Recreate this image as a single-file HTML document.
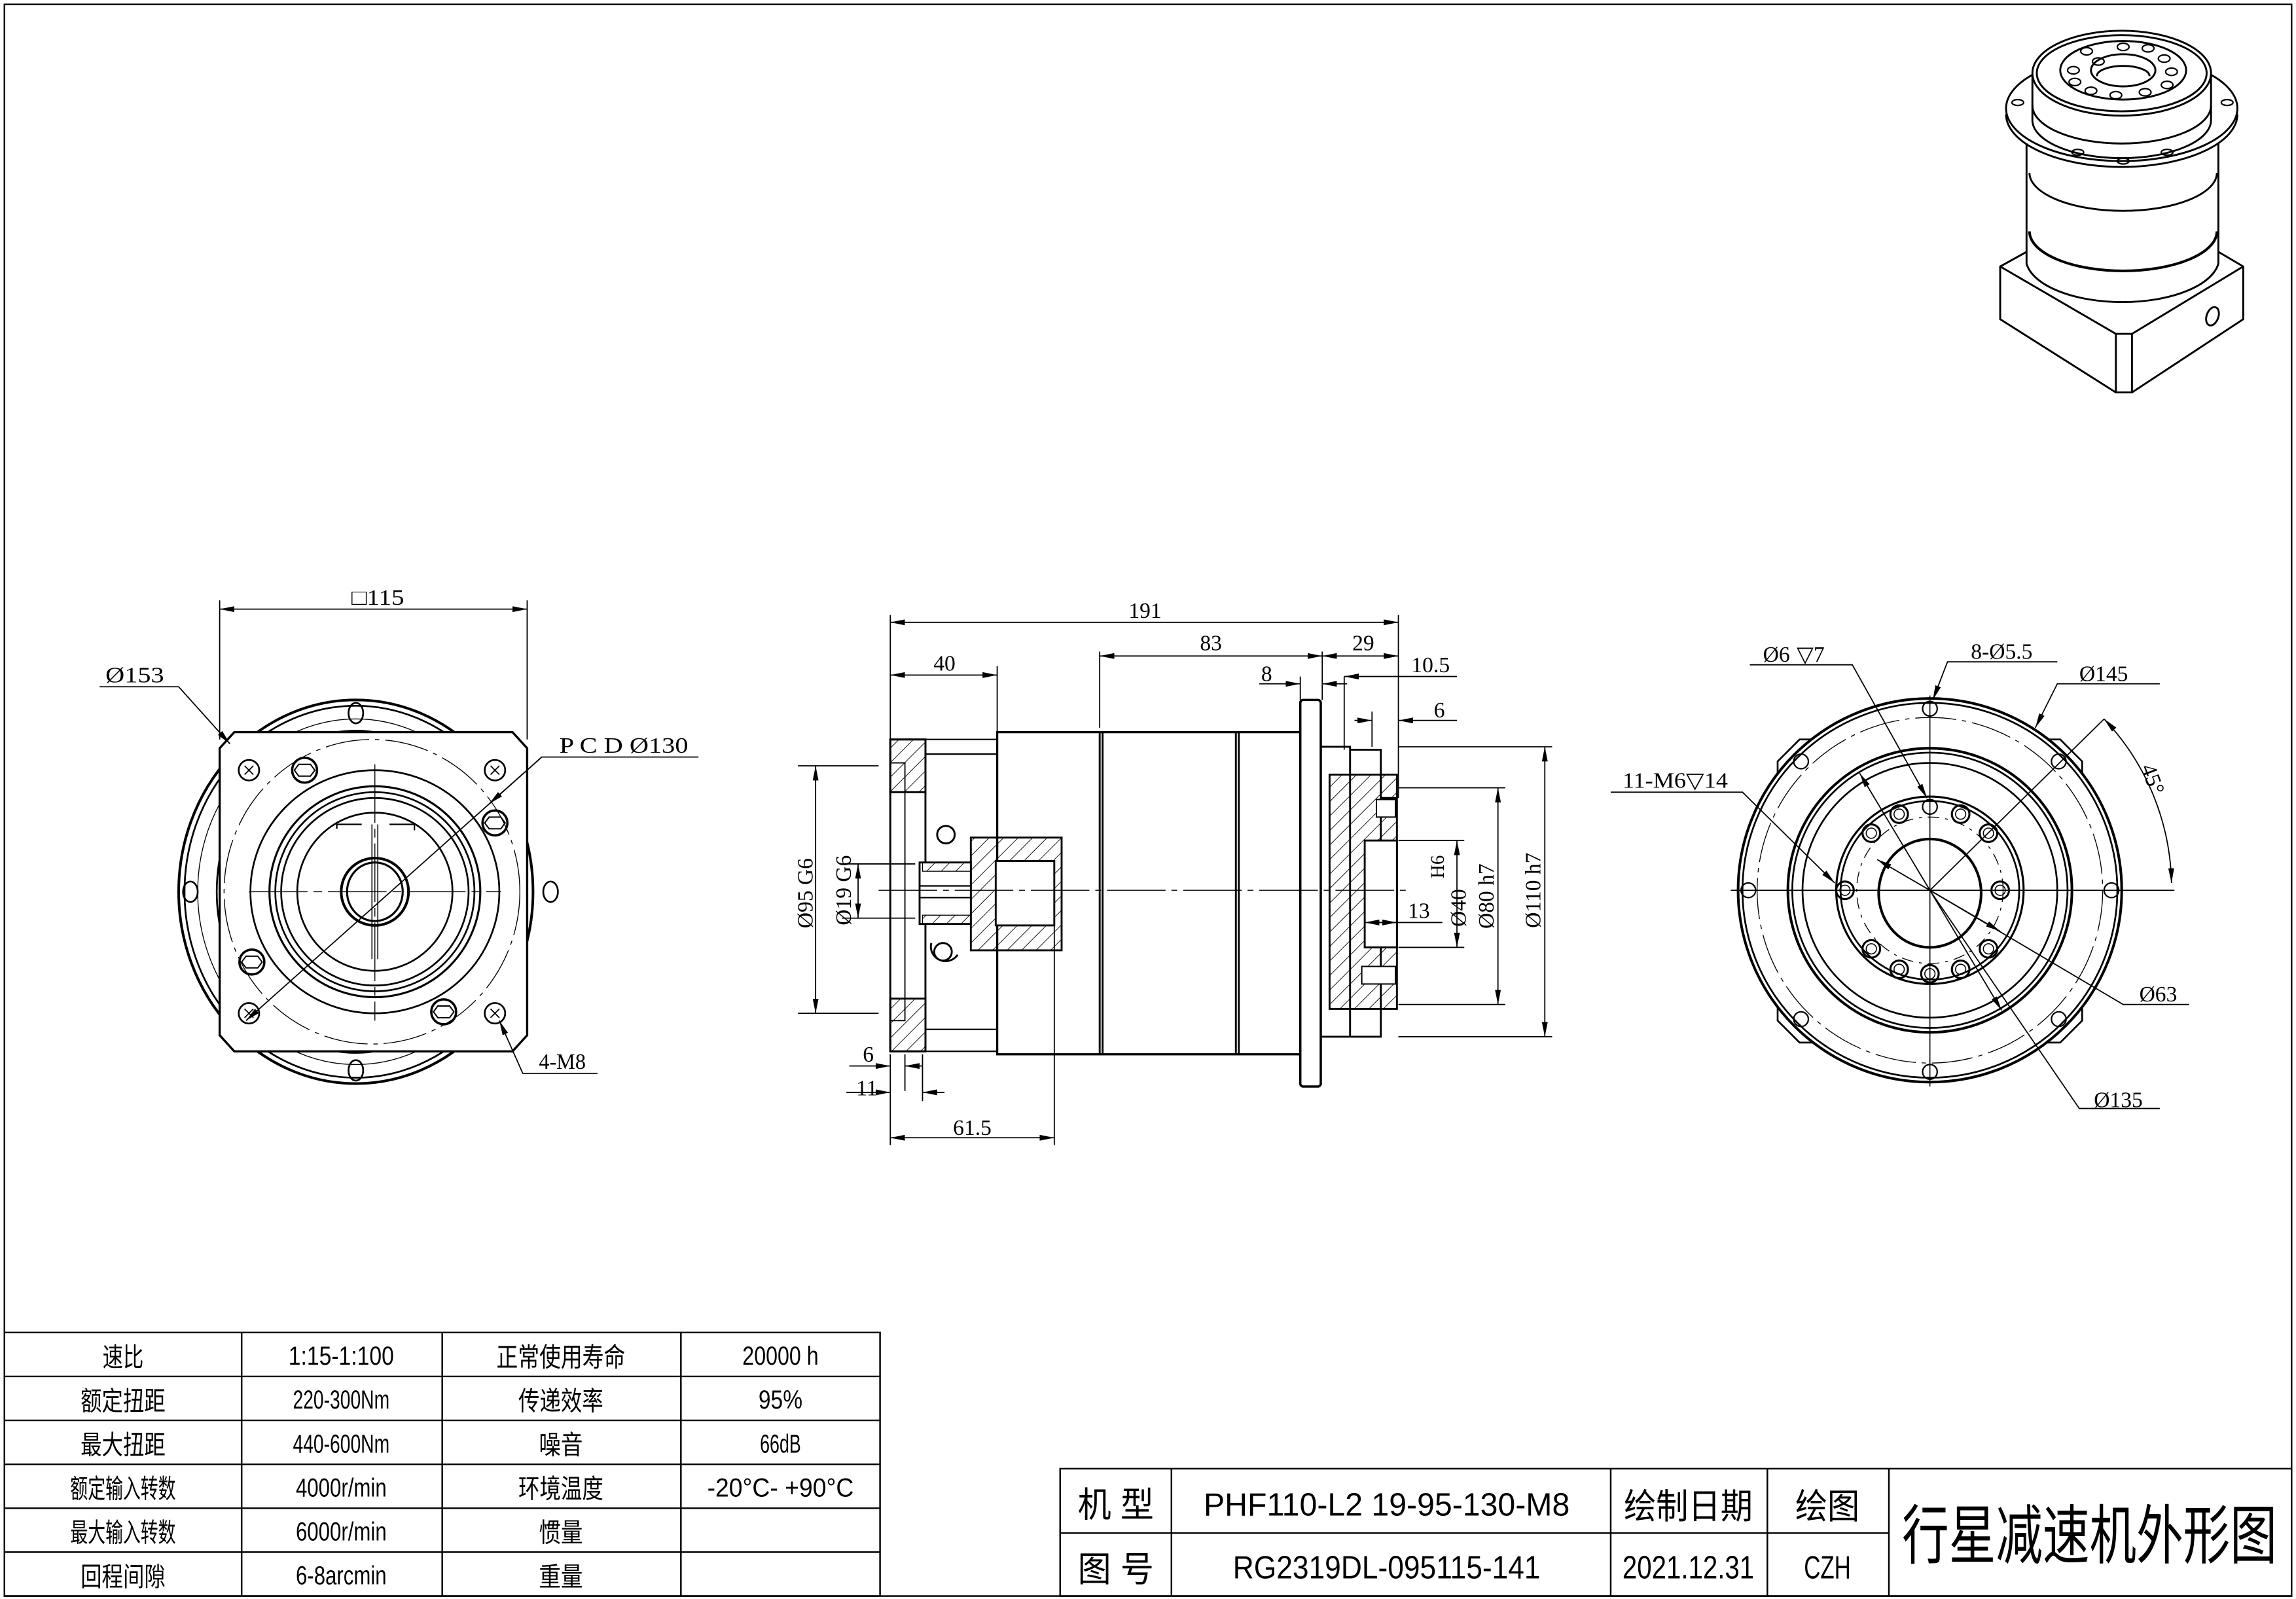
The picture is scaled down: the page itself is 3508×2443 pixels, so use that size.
<!DOCTYPE html>
<html><head><meta charset="utf-8"><style>html,body{margin:0;padding:0;background:#fff}svg{display:block}</style></head>
<body>
<svg xmlns="http://www.w3.org/2000/svg" width="3508" height="2443" viewBox="0 0 1568 1092">
<defs>
<marker id="a" viewBox="0 0 10 4" refX="10" refY="2" markerWidth="10" markerHeight="4" markerUnits="userSpaceOnUse" orient="auto-start-reverse"><path d="M0,0L10,2L0,4z" fill="#000"/></marker>
<pattern id="h" patternUnits="userSpaceOnUse" width="7" height="7" patternTransform="rotate(45)"><line x1="0" y1="0" x2="0" y2="7" stroke="#000" stroke-width="0.8"/></pattern>
</defs>
<rect width="1568" height="1092" fill="#fff"/>
<g fill="none" stroke="#000" stroke-width="1.1">
<rect x="3" y="3" width="1562" height="1087"/>
<rect x="3" y="910" width="598" height="180"/>
<path d="M3 940H601M3 970H601M3 1000H601M3 1030H601M3 1060H601M165 910V1090M302 910V1090M465 910V1090"/>
<rect x="724" y="1003" width="841" height="87"/>
<path d="M724 1047H1290M800 1003V1090M1100 1003V1090M1207 1003V1090M1290 1003V1090"/>
</g>
<g font-family="'Liberation Sans','Noto Sans CJK SC',sans-serif" font-size="18" text-anchor="middle" fill="#000">
<text x="84" y="933" textLength="28" lengthAdjust="spacingAndGlyphs">速比</text>
<text x="84" y="963" textLength="58" lengthAdjust="spacingAndGlyphs">额定扭距</text>
<text x="84" y="993" textLength="58" lengthAdjust="spacingAndGlyphs">最大扭距</text>
<text x="84" y="1023" textLength="72" lengthAdjust="spacingAndGlyphs">额定输入转数</text>
<text x="84" y="1053" textLength="72" lengthAdjust="spacingAndGlyphs">最大输入转数</text>
<text x="84" y="1083" textLength="58" lengthAdjust="spacingAndGlyphs">回程间隙</text>
<text x="233" y="932" textLength="72" lengthAdjust="spacingAndGlyphs">1:15-1:100</text>
<text x="233" y="962" textLength="66" lengthAdjust="spacingAndGlyphs">220-300Nm</text>
<text x="233" y="992" textLength="66" lengthAdjust="spacingAndGlyphs">440-600Nm</text>
<text x="233" y="1022" textLength="62" lengthAdjust="spacingAndGlyphs">4000r/min</text>
<text x="233" y="1052" textLength="62" lengthAdjust="spacingAndGlyphs">6000r/min</text>
<text x="233" y="1082" textLength="62" lengthAdjust="spacingAndGlyphs">6-8arcmin</text>
<text x="383" y="933" textLength="88" lengthAdjust="spacingAndGlyphs">正常使用寿命</text>
<text x="383" y="963" textLength="58" lengthAdjust="spacingAndGlyphs">传递效率</text>
<text x="383" y="993" textLength="30" lengthAdjust="spacingAndGlyphs">噪音</text>
<text x="383" y="1023" textLength="58" lengthAdjust="spacingAndGlyphs">环境温度</text>
<text x="383" y="1053" textLength="30" lengthAdjust="spacingAndGlyphs">惯量</text>
<text x="383" y="1083" textLength="30" lengthAdjust="spacingAndGlyphs">重量</text>
<text x="533" y="932" textLength="52" lengthAdjust="spacingAndGlyphs">20000 h</text>
<text x="533" y="962" textLength="30" lengthAdjust="spacingAndGlyphs">95%</text>
<text x="533" y="992" textLength="28" lengthAdjust="spacingAndGlyphs">66dB</text>
<text x="533" y="1022" textLength="100" lengthAdjust="spacingAndGlyphs">-20°C- +90°C</text>
<text x="762" y="1036" font-size="24" textLength="52" lengthAdjust="spacingAndGlyphs">机 型</text>
<text x="762" y="1080" font-size="24" textLength="52" lengthAdjust="spacingAndGlyphs">图 号</text>
<text x="947" y="1035" font-size="22" textLength="250" lengthAdjust="spacingAndGlyphs">PHF110-L2 19-95-130-M8</text>
<text x="947" y="1078" font-size="22" textLength="210" lengthAdjust="spacingAndGlyphs">RG2319DL-095115-141</text>
<text x="1153" y="1037" font-size="24" textLength="88" lengthAdjust="spacingAndGlyphs">绘制日期</text>
<text x="1153" y="1078" font-size="22" textLength="90" lengthAdjust="spacingAndGlyphs">2021.12.31</text>
<text x="1248" y="1037" font-size="24" textLength="44" lengthAdjust="spacingAndGlyphs">绘图</text>
<text x="1248" y="1078" font-size="22" textLength="32" lengthAdjust="spacingAndGlyphs">CZH</text>
<text x="1427" y="1064" font-size="44" textLength="256" lengthAdjust="spacingAndGlyphs">行星减速机外形图</text>
</g>

<!-- LEFT VIEW -->
<g fill="none" stroke="#000" stroke-width="1.2">
<ellipse cx="243" cy="609" rx="121" ry="131" stroke-width="1.8"/>
<ellipse cx="243" cy="609" rx="117" ry="127"/>
<ellipse cx="243" cy="609" rx="108" ry="118" stroke-width="0.6"/>
<ellipse cx="243" cy="609" rx="95" ry="110"/>
<ellipse cx="243" cy="487" rx="5" ry="7"/><ellipse cx="243" cy="731" rx="5" ry="7"/>
<ellipse cx="130" cy="609" rx="5" ry="7"/><ellipse cx="376" cy="609" rx="5" ry="7"/>
<path d="M160 500H350L360 511V707L350 718H160L150 707V511Z" fill="#fff" stroke-width="1.5"/>
<ellipse cx="254" cy="609" rx="101" ry="104" stroke-width="0.6" stroke-dasharray="30 4 3 4"/>
<ellipse cx="256" cy="609" rx="85" ry="83"/>
<ellipse cx="256" cy="609" rx="72" ry="72" stroke-width="1.4"/>
<ellipse cx="256" cy="609" rx="68" ry="68"/>
<ellipse cx="256" cy="609" rx="64" ry="64"/>
<ellipse cx="256" cy="609" rx="53" ry="54"/>
<path d="M230 566V563H247M266 563H283V567" stroke-width="1"/>
<path d="M254 563V655M258 563V655" stroke-width="0.7"/>
<ellipse cx="256" cy="609" rx="23" ry="23" stroke-width="1.8"/>
<ellipse cx="256" cy="609" rx="19" ry="20" stroke-width="1.4"/>
<path d="M170 609H342M256 522V697" stroke-width="0.6" stroke-dasharray="40 4 6 4"/>
<circle cx="170" cy="526" r="7"/><circle cx="338" cy="526" r="7"/><circle cx="170" cy="692" r="7"/><circle cx="338" cy="692" r="7"/>
<path d="M167 523l6 6m0-6l-6 6M335 523l6 6m0-6l-6 6M167 689l6 6m0-6l-6 6M335 689l6 6m0-6l-6 6" stroke-width="0.8"/>
<g stroke-width="1.6"><circle cx="208" cy="526" r="8.5"/><circle cx="338" cy="562" r="8.5"/><circle cx="172" cy="657" r="8.5"/><circle cx="303" cy="691" r="8.5"/></g>
<g stroke-width="0.9"><path d="M204 522h8l3 4-3 4h-8l-3-4z"/><path d="M334 558h8l3 4-3 4h-8l-3-4z"/><path d="M168 653h8l3 4-3 4h-8l-3-4z"/><path d="M299 687h8l3 4-3 4h-8l-3-4z"/></g>
</g>
<g fill="none" stroke="#000" stroke-width="0.8">
<path d="M150 410V505M360 410V505"/>
<path d="M150 416H360" marker-start="url(#a)" marker-end="url(#a)"/>
<path d="M68 469H122L157 508" marker-end="url(#a)"/>
<path d="M477 517H370L168 697" marker-end="url(#a)"/>
<path d="M370 517L334 549" marker-end="url(#a)"/>
<path d="M408 733H357L341 697" marker-end="url(#a)"/>
</g>
<g font-family="'Liberation Serif',serif" font-size="15" fill="#000">
<text x="240" y="413" textLength="36" lengthAdjust="spacingAndGlyphs">□115</text>
<text x="72" y="466" textLength="40" lengthAdjust="spacingAndGlyphs">Ø153</text>
<text x="382" y="514" textLength="88" lengthAdjust="spacingAndGlyphs">P C D Ø130</text>
<text x="368" y="730" textLength="32" lengthAdjust="spacingAndGlyphs">4-M8</text>
</g>

<!-- CENTER VIEW -->
<g fill="none" stroke="#000" stroke-width="1.3">
<rect x="608" y="505" width="24" height="213" fill="#fff"/>
<rect x="608" y="505" width="24" height="36" fill="url(#h)"/>
<rect x="608" y="682" width="24" height="36" fill="url(#h)"/>
<path d="M608 521H618V541M608 697H618V682M618 541V682" stroke-width="0.8"/>
<path d="M632 505H681M632 515H681M632 703H681M632 718H681" stroke-width="1"/>
<path d="M632 541V610M632 648V682" stroke-width="1"/>
<rect x="681" y="500" width="207" height="220" stroke-width="1.5"/>
<path d="M751 500V720M753 500V720M844 500V720M846 500V720" stroke-width="1.3"/>
<rect x="663" y="572" width="62" height="77" fill="url(#h)"/>
<rect x="680" y="588" width="40" height="44" fill="#fff"/>
<rect x="628" y="589" width="35" height="42" fill="#fff"/>
<path d="M628 605H663M628 613H663" stroke-width="1"/>
<rect x="630" y="589" width="33" height="6" fill="url(#h)" stroke-width="0.6"/>
<rect x="630" y="625" width="33" height="6" fill="url(#h)" stroke-width="0.6"/>
<circle cx="646" cy="570" r="6"/><circle cx="644" cy="650" r="6"/><path d="M636 644a10 10 0 0 0 18 8" />
<rect x="888" y="478" width="14" height="264" rx="2" stroke-width="1.6" fill="#fff"/>
<path d="M902 510H922V708H902M922 512H943V708H922" />
<rect x="908" y="529" width="46" height="160" fill="url(#h)"/>
<path d="M943 529V545H954" />
<rect x="932" y="574" width="22" height="73" fill="#fff"/>
<rect x="940" y="546" width="13" height="12" fill="#fff" stroke-width="0.9"/>
<rect x="930" y="660" width="23" height="12" fill="#fff" stroke-width="0.9"/>
<path d="M600 608H960" stroke-width="0.6" stroke-dasharray="40 4 4 4"/>
</g>
<g fill="none" stroke="#000" stroke-width="0.8">
<path d="M608 420V505M955 420V545M681 455V500M751 445V497M903 445V478M888 462V478M918 462V512M937 486V510"/>
<path d="M608 425H955" marker-start="url(#a)" marker-end="url(#a)"/>
<path d="M751 448H903" marker-start="url(#a)" marker-end="url(#a)"/>
<path d="M903 448H955" marker-start="url(#a)" marker-end="url(#a)"/>
<path d="M608 461H681" marker-start="url(#a)" marker-end="url(#a)"/>
<path d="M860 467H888" marker-end="url(#a)"/><path d="M920 467H903" marker-end="url(#a)"/>
<path d="M995 462H918" marker-end="url(#a)"/>
<path d="M995 492H955" marker-end="url(#a)"/><path d="M925 492H937" marker-end="url(#a)"/>
<path d="M955 510H1060M955 708H1060M955 538H1028M955 686H1028M955 574H1000M955 647H1000"/>
<path d="M1055 510V708" marker-start="url(#a)" marker-end="url(#a)"/>
<path d="M1023 538V686" marker-start="url(#a)" marker-end="url(#a)"/>
<path d="M995 574V647" marker-start="url(#a)" marker-end="url(#a)"/>
<path d="M932 630H954" marker-start="url(#a)" marker-end="url(#a)"/><path d="M954 630H985"/>
<path d="M545 523H600M545 692H600M575 590H625M575 627H625"/>
<path d="M557 523V692" marker-start="url(#a)" marker-end="url(#a)"/>
<path d="M586 590V627" marker-start="url(#a)" marker-end="url(#a)"/>
<path d="M608 720V782M618 720V745M630 720V752M720 632V782"/>
<path d="M580 728H608" marker-end="url(#a)"/><path d="M630 728H618" marker-end="url(#a)"/>
<path d="M578 746H608" marker-end="url(#a)"/><path d="M645 746H630" marker-end="url(#a)"/>
<path d="M608 777H720" marker-start="url(#a)" marker-end="url(#a)"/>
</g>
<g font-family="'Liberation Serif',serif" font-size="15" fill="#000" text-anchor="middle">
<text x="782" y="422">191</text>
<text x="827" y="444">83</text>
<text x="931" y="444">29</text>
<text x="645" y="458">40</text>
<text x="865" y="465">8</text>
<text x="977" y="459">10.5</text>
<text x="983" y="490">6</text>
<text x="969" y="627">13</text>
<text x="593" y="725">6</text>
<text x="592" y="748">11</text>
<text x="664" y="775">61.5</text>
<text transform="translate(1052 608) rotate(-90)">Ø110 h7</text>
<text transform="translate(1020 612) rotate(-90)">Ø80 h7</text>
<text transform="translate(1001 620) rotate(-90)">Ø40</text>
<text transform="translate(986 592) rotate(-90)" font-size="13">H6</text>
<text transform="translate(555 610) rotate(-90)">Ø95 G6</text>
<text transform="translate(581 608) rotate(-90)">Ø19 G6</text>
</g>

<!-- RIGHT VIEW -->
<g fill="none" stroke="#000" stroke-width="1.2">
<path d="M1229 505H1407L1422 520V697L1407 712H1229L1214 697V520Z"/>
<circle cx="1318" cy="608" r="131" fill="#fff" stroke-width="1.8"/>
<circle cx="1318" cy="608" r="128"/>
<circle cx="1318" cy="608" r="118" stroke-width="0.6" stroke-dasharray="28 4 3 4"/>
<circle cx="1318" cy="608" r="97" stroke-width="1.8"/>
<circle cx="1318" cy="608" r="94"/>
<circle cx="1318" cy="608" r="87"/>
<circle cx="1318" cy="608" r="64" stroke-width="1.4"/>
<circle cx="1318" cy="608" r="61"/>
<circle cx="1318" cy="608" r="50" stroke-width="0.6" stroke-dasharray="8 4 2 4"/>
<ellipse cx="1318" cy="610" rx="35" ry="37" stroke-width="1.8"/>
<path d="M1182 608H1485M1318 475V742" stroke-width="0.7"/>
<g stroke-width="1">
<circle cx="1318" cy="484" r="5"/><circle cx="1318" cy="732" r="5"/><circle cx="1194" cy="608" r="5"/><circle cx="1442" cy="608" r="5"/>
<circle cx="1230" cy="520" r="5"/><circle cx="1406" cy="520" r="5"/><circle cx="1230" cy="696" r="5"/><circle cx="1406" cy="696" r="5"/>
<circle cx="1318" cy="551" r="5"/>
</g>
<g stroke-width="1.4">
<circle cx="1339" cy="556" r="6"/><circle cx="1358" cy="569" r="6"/><circle cx="1366" cy="608" r="6"/><circle cx="1358" cy="648" r="6"/><circle cx="1339" cy="662" r="6"/>
<circle cx="1318" cy="665" r="6"/><circle cx="1297" cy="662" r="6"/><circle cx="1278" cy="648" r="6"/><circle cx="1260" cy="608" r="6"/><circle cx="1278" cy="569" r="6"/><circle cx="1297" cy="556" r="6"/>
</g>
<g stroke-width="0.7">
<circle cx="1339" cy="556" r="3.5"/><circle cx="1358" cy="569" r="3.5"/><circle cx="1366" cy="608" r="3.5"/><circle cx="1358" cy="648" r="3.5"/><circle cx="1339" cy="662" r="3.5"/>
<circle cx="1318" cy="665" r="3.5"/><circle cx="1297" cy="662" r="3.5"/><circle cx="1278" cy="648" r="3.5"/><circle cx="1260" cy="608" r="3.5"/><circle cx="1278" cy="569" r="3.5"/><circle cx="1297" cy="556" r="3.5"/>
</g>
</g>
<g fill="none" stroke="#000" stroke-width="0.8">
<path d="M1195 454H1265L1316 545" marker-end="url(#a)"/>
<path d="M1405 452H1330L1320 478" marker-end="url(#a)"/>
<path d="M1475 467H1405L1390 497" marker-end="url(#a)"/>
<path d="M1100 541H1190L1253 603" marker-end="url(#a)"/>
<path d="M1495 686H1450L1318 608L1282 587" marker-end="url(#a)"/>
<path d="M1318 608L1366 636" marker-end="url(#a)"/>
<path d="M1475 757H1420L1318 608L1270 528" marker-end="url(#a)"/>
<path d="M1318 608L1367 690" marker-end="url(#a)"/>
<path d="M1318 608L1437 491"/>
<path d="M1437 491A168 168 0 0 1 1483 603" marker-start="url(#a)" marker-end="url(#a)"/>
</g>
<g font-family="'Liberation Serif',serif" font-size="15" fill="#000">
<text x="1204" y="452">Ø6</text><text x="1227" y="452">▽7</text>
<text x="1346" y="450">8-Ø5.5</text>
<text x="1420" y="465">Ø145</text>
<text x="1108" y="538" textLength="72" lengthAdjust="spacingAndGlyphs">11-M6▽14</text>
<text x="1461" y="684">Ø63</text>
<text x="1430" y="756">Ø135</text>
<text transform="translate(1462 524) rotate(70)">45°</text>
</g>

<!-- ISO VIEW -->
<g fill="none" stroke="#000" stroke-width="1.3">
<path d="M1384 172L1366 182V218L1445 268H1456L1532 218V182L1515 172"/>
<path d="M1366 182L1445 228V268M1456 228V268M1445 228H1456L1532 182"/>
<ellipse cx="1511" cy="216" rx="4" ry="6.5" transform="rotate(20 1511 216)"/>
<path d="M1384 98V180A66 30 0 0 0 1515 180V98" fill="#fff"/>
<path d="M1386 158A64 27 0 0 0 1514 158" stroke-width="1.8"/>
<path d="M1386 118A64 26 0 0 0 1514 118"/>
<ellipse cx="1449" cy="74" rx="79" ry="36" fill="#fff"/>
<path d="M1370 78A79 36 0 0 0 1528 78"/>
<path d="M1388 52V82A61 26 0 0 0 1510 82V52"/>
<path d="M1388 72A61 26 0 0 0 1510 72"/>
<ellipse cx="1449" cy="50" rx="61" ry="29" fill="#fff"/>
<ellipse cx="1449" cy="50" rx="58" ry="26"/>
<ellipse cx="1450" cy="48" rx="43" ry="20"/>
<ellipse cx="1450" cy="48" rx="22" ry="11"/>
<path d="M1432 52A18 7 0 0 1 1468 52"/>
<g stroke-width="1">
<ellipse cx="1433" cy="42" rx="4" ry="2.5"/><ellipse cx="1450" cy="32" rx="4" ry="2.5"/><ellipse cx="1467" cy="33" rx="4" ry="2.5"/><ellipse cx="1478" cy="40" rx="4" ry="2.5"/>
<ellipse cx="1483" cy="49" rx="4" ry="2.5"/><ellipse cx="1480" cy="58" rx="4" ry="2.5"/><ellipse cx="1465" cy="63" rx="4" ry="2.5"/><ellipse cx="1445" cy="65" rx="4" ry="2.5"/>
<ellipse cx="1428" cy="62" rx="4" ry="2.5"/><ellipse cx="1417" cy="56" rx="4" ry="2.5"/><ellipse cx="1416" cy="48" rx="4" ry="2.5"/><ellipse cx="1425" cy="35" rx="4" ry="2.5"/>
<ellipse cx="1378" cy="70" rx="4" ry="2"/><ellipse cx="1521" cy="70" rx="4" ry="2"/><ellipse cx="1419" cy="104" rx="4" ry="2"/><ellipse cx="1480" cy="104" rx="4" ry="2"/><ellipse cx="1450" cy="110" rx="4" ry="2"/>
</g>
</g>
</svg>
</body></html>
